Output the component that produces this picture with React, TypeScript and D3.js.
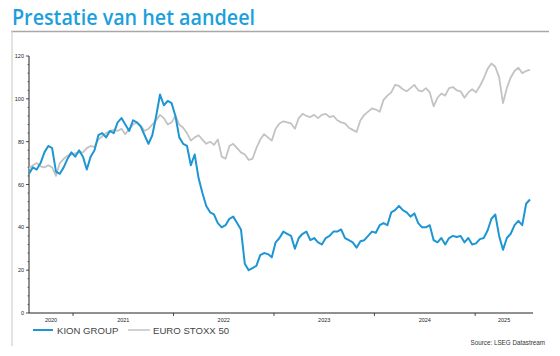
import React from "react";
import * as d3 from "d3";

const START = "2020-07-25";
const END = "2025-07-30";
const STEP_DAYS = 14;

const kionValues = [
  65, 68, 67, 70, 75, 78, 77, 66, 65, 68, 72, 75, 73, 76, 73, 67, 73, 76, 83, 84,
  82, 85, 84, 89, 91, 88, 85, 90, 89, 87, 83, 79, 83, 92, 102, 97, 99, 98, 92, 82,
  79, 78, 69, 74, 63, 56, 50, 47, 46, 42, 40, 41, 44, 45, 42, 39, 23, 20, 21, 22,
  27, 28, 27.5, 26, 33, 35, 38, 37, 36, 30, 35, 37, 38, 34, 35, 33, 32, 35, 36, 38,
  38, 39, 35, 34, 33, 30.5, 33.5, 34, 36, 38, 37.5, 41, 42, 41, 47, 48, 50, 48, 47, 45,
  46.5, 42, 40, 40, 41, 34, 33, 35, 32, 35, 36, 35.5, 36, 33, 35, 32, 32.5, 34.5, 35, 38.5,
  44, 46, 36, 29.5, 35, 37, 41, 43, 41, 51, 53,
];

const euroValues = [
  67.5, 69, 70, 68.5, 68, 69, 68, 64, 70, 72, 73.5, 74, 74.5, 75, 75, 77, 78, 77.5, 81, 82.5,
  84, 85, 85.5, 85, 86, 83.5, 86, 88, 89, 87.5, 85, 86, 88, 90, 92.5, 91, 88, 89, 92, 88,
  86.5, 84, 80.5, 82, 83, 81, 79, 80, 78.5, 81, 73, 72, 78, 79, 77, 75, 74, 71.5, 72, 77,
  81, 83.5, 82, 80.5, 86, 88.5, 89.5, 89, 88.5, 86, 91, 93, 92, 91.5, 92.5, 91, 92.5, 93, 91.5, 92,
  90, 89, 88.5, 86.5, 85.5, 84.5, 90, 92.5, 94, 95.5, 95, 94, 99.5, 101.5, 103, 106.5, 106, 104.5, 103.5, 105,
  106.5, 104, 103.5, 105, 103, 96.5, 100.5, 102.5, 101.5, 105, 105.5, 104, 103.5, 100.5, 103, 104.5, 103, 106, 109.5, 114,
  116.5, 115, 110, 98, 105, 110, 113, 114.5, 112, 113, 113.5,
];

const yTicks = [0, 20, 40, 60, 80, 100, 120];
const yearLabels = ["2020", "2021", "2022", "2023", "2024", "2025"];
const seriesNames = ["KION GROUP", "EURO STOXX 50"];
const title = "Prestatie van het aandeel";
const source = "Source: LSEG Datastream";

const BLUE = "#1e96d3";
const GRAY = "#c3c3c3";

export default function App() {
  const parse = d3.utcParse("%Y-%m-%d");
  const start = parse(START) as Date;
  const end = parse(END) as Date;
  const dates = kionValues.map((_, i) => d3.utcDay.offset(start, i * STEP_DAYS));

  const x = d3.scaleUtc().domain([start, end]).range([29, 533]);
  const y = d3.scaleLinear().domain([0, 120]).range([313, 56]);

  const line = d3
    .line<number>()
    .x((_, i) => x(dates[i]))
    .y((d) => y(d));

  const yearStarts = d3.utcYear.range(start, end);
  const minorTicks = d3.range(0, 121, 4).filter((v) => v % 20 !== 0);

  const labelPos = yearLabels.map((lab) => {
    const ys = d3.utcYear.floor(parse(lab + "-06-01") as Date);
    const ye = d3.utcYear.offset(ys, 1);
    const a = Math.max(x(ys), x(start));
    const b = Math.min(x(ye), x(end));
    return { lab, cx: (a + b) / 2 };
  });

  const tickFont = "Liberation Sans, Arial, sans-serif";

  return (
    <svg
      width={560}
      height={356}
      style={{ position: "absolute", left: 0, top: 0, background: "#fff" }}
    >
      <rect x={0} y={0} width={560} height={356} fill="#fff" />
      <text
        x={12}
        y={25}
        fill="#1c9fdd"
        fontFamily="Open Sans, Noto Sans, sans-serif"
        fontWeight={600}
        fontSize={21}
        textLength={243}
        lengthAdjust="spacingAndGlyphs"
      >
        {title}
      </text>
      <line x1={11} x2={549} y1={31.5} y2={31.5} stroke="#a8a8a8" strokeWidth={1.5} />
      <line x1={12} x2={12} y1={31} y2={346} stroke="#d0d0d0" strokeWidth={1.2} />

      <line x1={29} x2={29} y1={y(120)} y2={y(0)} stroke="#222" strokeWidth={1} />
      {yTicks.map((v) => (
        <g key={"yt" + v}>
          <line x1={26} x2={29} y1={y(v)} y2={y(v)} stroke="#222" strokeWidth={0.8} />
          <text
            x={24}
            y={y(v) + 2}
            textAnchor="end"
            fontSize={5.5}
            fill="#222"
            fontFamily={tickFont}
          >
            {v}
          </text>
        </g>
      ))}
      {minorTicks.map((v) => (
        <line key={"ym" + v} x1={27.5} x2={29} y1={y(v)} y2={y(v)} stroke="#222" strokeWidth={0.6} />
      ))}

      <line x1={29} x2={533} y1={313} y2={313} stroke="#222" strokeWidth={1} />
      {yearStarts.map((d, i) => (
        <line key={"xt" + i} x1={x(d)} x2={x(d)} y1={313} y2={316} stroke="#222" strokeWidth={0.8} />
      ))}
      {labelPos.map((p) => (
        <text
          key={p.lab}
          x={p.cx}
          y={322}
          textAnchor="middle"
          fontSize={5.5}
          fill="#222"
          fontFamily={tickFont}
        >
          {p.lab}
        </text>
      ))}

      <path d={line(euroValues) || ""} fill="none" stroke={GRAY} strokeWidth={1.8} strokeLinejoin="round" />
      <path d={line(kionValues) || ""} fill="none" stroke={BLUE} strokeWidth={2} strokeLinejoin="round" />

      <line x1={33} x2={53} y1={330} y2={330} stroke={BLUE} strokeWidth={2} />
      <text x={57} y={333.5} fontSize={9.6} fill="#444" fontFamily={tickFont}>
        {seriesNames[0]}
      </text>
      <line x1={128} x2={150} y1={330} y2={330} stroke={GRAY} strokeWidth={1.5} />
      <text x={153} y={333.5} fontSize={9.6} fill="#444" fontFamily={tickFont}>
        {seriesNames[1]}
      </text>

      <text x={545} y={344.5} textAnchor="end" fontSize={6.3} fill="#333" fontFamily={tickFont}>
        {source}
      </text>
    </svg>
  );
}
